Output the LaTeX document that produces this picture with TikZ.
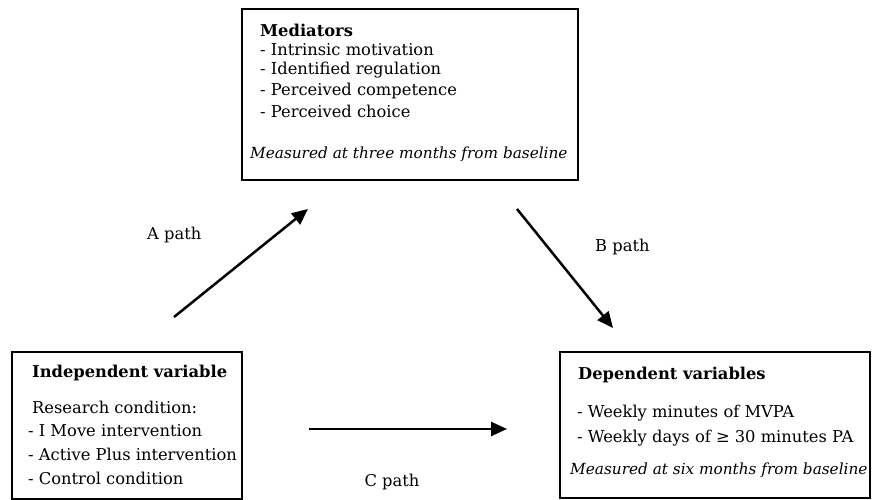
\documentclass[tikz,border=0pt]{standalone}
\usepackage{fontspec}
\setmainfont{DejaVu Serif}
\usetikzlibrary{arrows.meta}
\tikzset{
  box/.style={draw=black, line width=1.8pt, rectangle, inner sep=0pt},
  txt/.style={anchor=west, inner sep=0pt, font=\fontsize{16.3}{20}\selectfont},
  itxt/.style={anchor=west, inner sep=0pt, font=\fontsize{15.3}{20}\selectfont\itshape},
  conn/.style={line width=2.5pt, -{Triangle[length=16pt,width=14pt]}},
}
\begin{document}
\begin{tikzpicture}[x=1pt,y=-1pt]
\useasboundingbox (0,0) rectangle (872,500);
% boxes
\node[box, minimum width=336pt, minimum height=171pt] (med) at (410,94.5) {};
\node[box, minimum width=230pt, minimum height=147pt] (ind) at (127,425.5) {};
\node[box, minimum width=310pt, minimum height=146pt] (dep) at (715,425) {};
% mediators text
\node[txt] (m0) at (260,30) {\textbf{Mediators}};
\node[txt] (m1) at (260,50) {- Intrinsic motivation};
\node[txt] (m2) at (260,70.5) {- Identified regulation};
\node[txt] (m3) at (260,91) {- Perceived competence};
\node[txt] (m4) at (260,111.5) {- Perceived choice};
\node[itxt] (m5) at (250,154) {Measured at three months from baseline};
% independent text
\node[txt] (i0) at (32,373) {\textbf{Independent variable}};
\node[txt] (i1) at (32,407) {Research condition:};
\node[txt] (i2) at (28,431) {- I Move intervention};
\node[txt] (i3) at (28,454.5) {- Active Plus intervention};
\node[txt] (i4) at (28,478) {- Control condition};
% dependent text
\node[txt] (d0) at (578,375) {\textbf{Dependent variables}};
\node[txt] (d1) at (577,413) {- Weekly minutes of MVPA};
\node[txt] (d2) at (577,438) {- Weekly days of ≥ 30 minutes PA};
\node[itxt] (d3) at (570,470) {Measured at six months from baseline};
% path labels
\node[txt] (la) at (147,235) {A path};
\node[txt] (lb) at (595,247) {B path};
\node[txt, anchor=center] (lc) at (392,482) {C path};
% connectors
\coordinate (a1) at (174,317);
\coordinate (a2) at (308,209);
\coordinate (b1) at (517,209);
\coordinate (b2) at (613,328);
\coordinate (c1) at (309,429);
\coordinate (c2) at (507,429);
\draw[conn] (a1) -- (a2);
\draw[conn] (b1) -- (b2);
\draw[conn] (c1) -- (c2);
\end{tikzpicture}
\end{document}
